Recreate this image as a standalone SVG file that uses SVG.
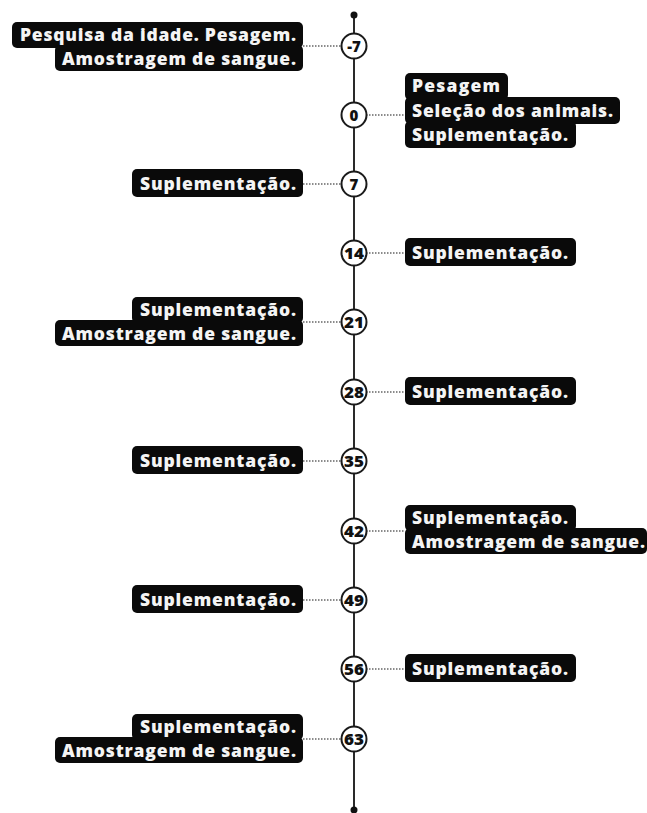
<svg xmlns="http://www.w3.org/2000/svg" width="647" height="813" viewBox="0 0 647 813">
<style>
.box{fill:#0a0a0a}
.lbl{font-family:"Open Sans","DejaVu Sans",sans-serif;font-weight:800;font-size:17.5px;fill:#f4f4f4}
.num{font-family:"Open Sans","DejaVu Sans",sans-serif;font-weight:800;font-size:15px;fill:#111;text-anchor:middle}
.c{fill:#fff;stroke:#1a1a1a;stroke-width:2}
.dot{stroke:#666;stroke-width:1.5;stroke-dasharray:1.5 1.5;fill:none}
.end{text-anchor:end}
</style>
<rect width="647" height="813" fill="#fff"/>
<g id="connectors">
<line x1="354" y1="15" x2="354" y2="810" stroke="#2a2a2a" stroke-width="2"/>
<circle cx="354" cy="15" r="3.5" fill="#111"/>
<circle cx="354" cy="810" r="3.5" fill="#111"/>
<line class="dot" x1="303" y1="46" x2="342" y2="46"/>
<line class="dot" x1="366" y1="115" x2="405" y2="115"/>
<line class="dot" x1="303" y1="184" x2="342" y2="184"/>
<line class="dot" x1="366" y1="253" x2="405" y2="253"/>
<line class="dot" x1="303" y1="322" x2="342" y2="322"/>
<line class="dot" x1="366" y1="392" x2="405" y2="392"/>
<line class="dot" x1="303" y1="461" x2="342" y2="461"/>
<line class="dot" x1="366" y1="531" x2="405" y2="531"/>
<line class="dot" x1="303" y1="600" x2="342" y2="600"/>
<line class="dot" x1="366" y1="669" x2="405" y2="669"/>
<line class="dot" x1="303" y1="739" x2="342" y2="739"/>
</g>
<g id="n-7"><circle class="c" cx="354" cy="46" r="12.5"/><text class="num" x="354" y="51.5">-7</text></g>
<g id="n0"><circle class="c" cx="354" cy="115" r="12.5"/><text class="num" x="354" y="120.5">0</text></g>
<g id="n7"><circle class="c" cx="354" cy="184" r="12.5"/><text class="num" x="354" y="189.5">7</text></g>
<g id="n14"><circle class="c" cx="354" cy="253" r="12.5"/><text class="num" x="354" y="258.5" textLength="20" lengthAdjust="spacingAndGlyphs">14</text></g>
<g id="n21"><circle class="c" cx="354" cy="322" r="12.5"/><text class="num" x="354" y="327.5" textLength="20" lengthAdjust="spacingAndGlyphs">21</text></g>
<g id="n28"><circle class="c" cx="354" cy="392" r="12.5"/><text class="num" x="354" y="397.5" textLength="20" lengthAdjust="spacingAndGlyphs">28</text></g>
<g id="n35"><circle class="c" cx="354" cy="461" r="12.5"/><text class="num" x="354" y="466.5" textLength="20" lengthAdjust="spacingAndGlyphs">35</text></g>
<g id="n42"><circle class="c" cx="354" cy="531" r="12.5"/><text class="num" x="354" y="536.5" textLength="20" lengthAdjust="spacingAndGlyphs">42</text></g>
<g id="n49"><circle class="c" cx="354" cy="600" r="12.5"/><text class="num" x="354" y="605.5" textLength="20" lengthAdjust="spacingAndGlyphs">49</text></g>
<g id="n56"><circle class="c" cx="354" cy="669" r="12.5"/><text class="num" x="354" y="674.5" textLength="20" lengthAdjust="spacingAndGlyphs">56</text></g>
<g id="n63"><circle class="c" cx="354" cy="739" r="12.5"/><text class="num" x="354" y="744.5" textLength="20" lengthAdjust="spacingAndGlyphs">63</text></g>

<g id="label-7">
<rect class="box" x="12" y="22" width="291" height="26" rx="5"/>
<rect class="box" x="55" y="45" width="248" height="26" rx="5"/>
<text class="lbl end" x="296" y="41" textLength="276" lengthAdjust="spacing">Pesquisa da idade. Pesagem.</text>
<text class="lbl end" x="296" y="65" textLength="234" lengthAdjust="spacing">Amostragem de sangue.</text>
</g>
<g id="label0">
<rect class="box" x="405" y="73" width="103" height="27" rx="5"/>
<rect class="box" x="405" y="97" width="215" height="27" rx="5"/>
<rect class="box" x="405" y="121" width="171" height="27" rx="5"/>
<text class="lbl" x="412" y="92" textLength="88" lengthAdjust="spacing">Pesagem</text>
<text class="lbl" x="412" y="116.5" textLength="201" lengthAdjust="spacing">Seleção dos animais.</text>
<text class="lbl" x="412" y="141" textLength="156" lengthAdjust="spacing">Suplementação.</text>
</g>
<g id="label7">
<rect class="box" x="132" y="169" width="171" height="28" rx="5"/>
<text class="lbl end" x="296" y="189.5" textLength="156" lengthAdjust="spacing">Suplementação.</text>
</g>
<g id="label14">
<rect class="box" x="405" y="238" width="171" height="28" rx="5"/>
<text class="lbl" x="412" y="258.5" textLength="156" lengthAdjust="spacing">Suplementação.</text>
</g>
<g id="label21">
<rect class="box" x="132" y="297" width="171" height="26" rx="5"/>
<rect class="box" x="55" y="320" width="248" height="26" rx="5"/>
<text class="lbl end" x="296" y="316" textLength="156" lengthAdjust="spacing">Suplementação.</text>
<text class="lbl end" x="296" y="340" textLength="234" lengthAdjust="spacing">Amostragem de sangue.</text>
</g>
<g id="label28">
<rect class="box" x="405" y="377" width="171" height="28" rx="5"/>
<text class="lbl" x="412" y="397.5" textLength="156" lengthAdjust="spacing">Suplementação.</text>
</g>
<g id="label35">
<rect class="box" x="132" y="446" width="171" height="28" rx="5"/>
<text class="lbl end" x="296" y="466.5" textLength="156" lengthAdjust="spacing">Suplementação.</text>
</g>
<g id="label42">
<rect class="box" x="405" y="505" width="171" height="26" rx="5"/>
<rect class="box" x="405" y="528" width="242" height="26" rx="5"/>
<text class="lbl" x="412" y="524" textLength="156" lengthAdjust="spacing">Suplementação.</text>
<text class="lbl" x="412" y="548" textLength="233" lengthAdjust="spacing">Amostragem de sangue.</text>
</g>
<g id="label49">
<rect class="box" x="132" y="585" width="171" height="28" rx="5"/>
<text class="lbl end" x="296" y="605.5" textLength="156" lengthAdjust="spacing">Suplementação.</text>
</g>
<g id="label56">
<rect class="box" x="405" y="654" width="171" height="28" rx="5"/>
<text class="lbl" x="412" y="674.5" textLength="156" lengthAdjust="spacing">Suplementação.</text>
</g>
<g id="label63">
<rect class="box" x="132" y="714" width="171" height="26" rx="5"/>
<rect class="box" x="55" y="737" width="248" height="26" rx="5"/>
<text class="lbl end" x="296" y="733" textLength="156" lengthAdjust="spacing">Suplementação.</text>
<text class="lbl end" x="296" y="757" textLength="234" lengthAdjust="spacing">Amostragem de sangue.</text>
</g>
</svg>
